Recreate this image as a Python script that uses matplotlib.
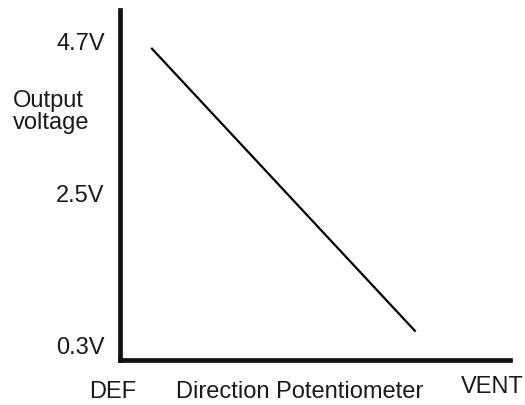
import matplotlib.pyplot as plt
from matplotlib import transforms

plt.rcParams['font.family'] = ['Liberation Sans', 'DejaVu Sans']

# potentiometer position (0 = DEF end of axis, 1 = VENT end) and output voltage
pot_position = [0.082, 0.756]
voltage = [4.6, 0.52]

ytick_values = [0.3, 2.5, 4.7]
ytick_labels = ['0.3V', '2.5V', '4.7V']

fig = plt.figure(figsize=(5.25, 4.05), dpi=100)
# axes box in pixels: left 120, right 510, top 10, bottom 360
ax = fig.add_axes([120 / 525, 1 - 360 / 405, 390 / 525, 350 / 405])

ax.plot(pot_position, voltage, color='black', lw=1.6)

ax.set_xlim(0, 1)
ax.set_ylim(0.097, 5.16)

for side in ['top', 'right']:
    ax.spines[side].set_visible(False)
for side in ['left', 'bottom']:
    ax.spines[side].set_linewidth(3.4)
    ax.spines[side].set_color('#111111')

ax.set_xticks([])
ax.set_yticks(ytick_values)
ax.set_yticklabels(ytick_labels, fontsize=17, color='#1a1a1a')
ax.tick_params(axis='y', length=0, pad=11)

trans = transforms.blended_transform_factory(ax.transData, fig.transFigure)
ax.text(-0.018, 1 - 392 / 405, 'DEF', transform=trans, fontsize=17,
        ha='center', va='center', color='#1a1a1a')
ax.text(0.46, 1 - 392 / 405, 'Direction Potentiometer', transform=trans,
        fontsize=17, ha='center', va='center', color='#1a1a1a')
ax.text(0.955, 1 - 387 / 405, 'VENT', transform=trans, fontsize=17,
        ha='center', va='center', color='#1a1a1a')

fig.text(13 / 525, 1 - 112 / 405, 'Output\nvoltage', fontsize=17,
         ha='left', va='center', linespacing=1.0, color='#1a1a1a')

fig.savefig('out.png', dpi=100)
